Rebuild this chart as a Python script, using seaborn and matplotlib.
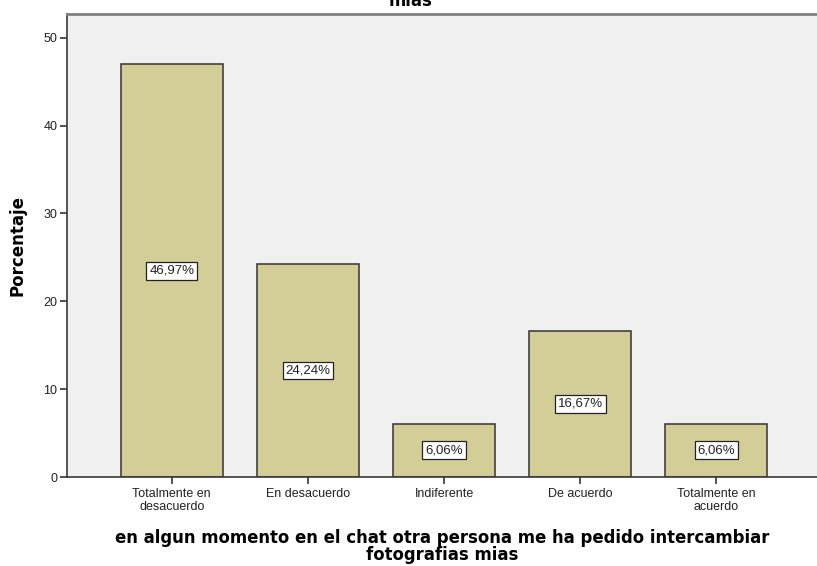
import matplotlib
matplotlib.use("Agg")
import matplotlib.pyplot as plt
import seaborn as sns
import pandas as pd

categorias = ["Totalmente en\ndesacuerdo", "En desacuerdo", "Indiferente",
              "De acuerdo", "Totalmente en\nacuerdo"]
porcentajes = [46.97, 24.24, 6.06, 16.67, 6.06]
etiquetas = ["46,97%", "24,24%", "6,06%", "16,67%", "6,06%"]

df = pd.DataFrame({"categoria": categorias, "porcentaje": porcentajes})

sns.set_theme(style="white")
plt.rcParams["font.family"] = ["Liberation Sans", "DejaVu Sans"]

fig = plt.figure(figsize=(8.17, 5.66), dpi=100)
ax = fig.add_axes([67 / 817, 89 / 566, 1 - 67 / 817, (477 - 14) / 566])
ax.set_facecolor("#F0F0F0")

sns.barplot(data=df, x="categoria", y="porcentaje", ax=ax, color="#D3CE97",
            saturation=1, width=0.75, edgecolor="#333333", linewidth=1.1)

for i, (v, t) in enumerate(zip(porcentajes, etiquetas)):
    ax.text(i, v / 2, t, ha="center", va="center", fontsize=9.5, color="#222222",
            bbox=dict(boxstyle="square,pad=0.22", fc="white", ec="#222222", lw=0.9))

ax.set_xlim(-0.77, 4.74)
ax.set_ylim(0, 52.7)
ax.set_yticks([0, 10, 20, 30, 40, 50])
ax.tick_params(axis="both", which="both", direction="out", length=5, width=1.2,
               colors="#333333", labelsize=9, left=True, bottom=True, pad=2)
ax.tick_params(axis="x", pad=3)
for lab in ax.get_xticklabels():
    lab.set_linespacing(1.05)
for lab in ax.get_xticklabels() + ax.get_yticklabels():
    lab.set_color("#222222")

for s in ["left", "bottom"]:
    ax.spines[s].set_color("#3A3A3A")
    ax.spines[s].set_linewidth(1.2)
ax.spines["top"].set_color("#808080")
ax.spines["top"].set_linewidth(2)
ax.spines["right"].set_visible(False)

ax.set_ylabel("Porcentaje", fontsize=12, fontweight="bold", family="DejaVu Sans",
              color="black", labelpad=12)
ax.set_xlabel("en algun momento en el chat otra persona me ha pedido intercambiar\nfotografias mias",
              fontsize=11.9, fontweight="bold", family="DejaVu Sans", color="black",
              labelpad=12, linespacing=0.9)

fig.text(411 / 817, 1 - 6 / 566, "mias", ha="center", va="baseline", fontsize=11.9,
         fontweight="bold", family="DejaVu Sans", color="black")

fig.savefig("out.png", dpi=100, facecolor="white")
